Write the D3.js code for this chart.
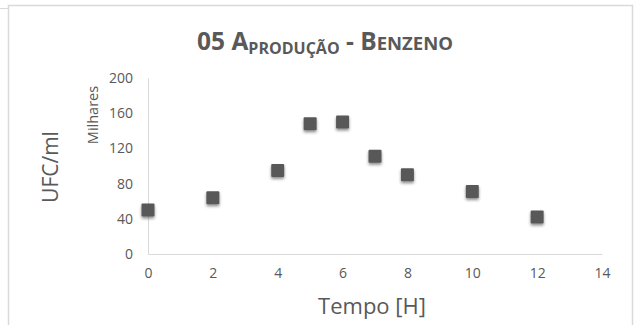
<!DOCTYPE html>
<html>
<head>
<meta charset="utf-8">
<script src="https://cdn.jsdelivr.net/npm/d3@7"></script>
<style>
  body { margin: 0; background: #fff; }
  svg { display: block; font-family: "Open Sans", sans-serif; }
</style>
</head>
<body>
<div id="chart"></div>
<script>
// dados
const tempo = [0, 2, 4, 5, 6, 7, 8, 10, 12];
const ufc = [50, 64, 95, 148, 150, 111, 90, 71, 42];   // milhares
const xTicks = [0, 2, 4, 6, 8, 10, 12, 14];
const yTicks = [0, 40, 80, 120, 160, 200];

const width = 635, height = 325;
const margin = { left: 148, right: 33, top: 78, bottom: 71 };
const grey = "#595959";

const svg = d3.select("#chart").append("svg")
  .attr("width", width)
  .attr("height", height);

// moldura
svg.append("rect")
  .attr("x", 8.5).attr("y", 5.5)
  .attr("width", 624).attr("height", 340)
  .attr("fill", "#fff")
  .attr("stroke", "#d9d9d9")
  .attr("stroke-width", 1.5);
svg.append("line")
  .attr("x1", 0).attr("x2", 9).attr("y1", 8.5).attr("y2", 8.5)
  .attr("stroke", "#d9d9d9");

const defs = svg.append("defs");
const f = defs.append("filter").attr("id", "sombra")
  .attr("x", "-50%").attr("y", "-50%").attr("width", "200%").attr("height", "200%");
f.append("feDropShadow")
  .attr("dx", 0).attr("dy", 2).attr("stdDeviation", 1.6)
  .attr("flood-color", "#000").attr("flood-opacity", 0.45);

const x = d3.scaleLinear().domain([0, 14]).range([margin.left, width - margin.right]);
const y = d3.scaleLinear().domain([0, 200]).range([height - margin.bottom, margin.top]);

// eixo X
const xAxis = svg.append("g")
  .attr("transform", `translate(0,${y(0)})`)
  .call(d3.axisBottom(x).tickValues(xTicks).tickSize(0).tickPadding(14));
xAxis.select(".domain").attr("stroke", "#d9d9d9");
xAxis.selectAll("text").attr("fill", grey).style("font-size", "14px").style("font-family", "Open Sans");

// eixo Y
const yAxis = svg.append("g")
  .attr("transform", `translate(${x(0)},0)`)
  .call(d3.axisLeft(y).tickValues(yTicks).tickSize(0).tickPadding(15));
yAxis.select(".domain").attr("stroke", "#d9d9d9");
yAxis.selectAll("text").attr("fill", grey).style("font-size", "14px").style("font-family", "Open Sans");

// pontos
const s = 13;
svg.append("g")
  .selectAll("rect")
  .data(tempo)
  .join("rect")
  .attr("x", (d) => x(d) - s / 2)
  .attr("y", (d, i) => y(ufc[i]) - s / 2)
  .attr("width", s)
  .attr("height", s)
  .attr("rx", 1)
  .attr("fill", grey)
  .attr("filter", "url(#sombra)");

// título
const title = svg.append("text")
  .attr("x", 325).attr("y", 50)
  .attr("text-anchor", "middle")
  .attr("fill", grey)
  .attr("font-weight", "bold")
  .style("font-size", "24.5px");
title.append("tspan").text("05 A");
title.append("tspan").attr("dy", 4).style("font-size", "16px").text("PRODUÇÃO");
title.append("tspan").attr("dy", -4).text(" - B");
title.append("tspan").style("font-size", "18.5px").text("ENZENO");

// rótulos dos eixos
svg.append("text")
  .attr("transform", "translate(58,167) rotate(-90)")
  .attr("text-anchor", "middle")
  .attr("fill", grey)
  .style("font-size", "21px")
  .text("UFC/ml");

svg.append("text")
  .attr("transform", "translate(98,115) rotate(-90)")
  .attr("text-anchor", "middle")
  .attr("fill", grey)
  .style("font-size", "14.5px")
  .text("Milhares");

svg.append("text")
  .attr("x", 372).attr("y", 314)
  .attr("text-anchor", "middle")
  .attr("fill", grey)
  .style("font-size", "22px")
  .text("Tempo [H]");
</script>
</body>
</html>
